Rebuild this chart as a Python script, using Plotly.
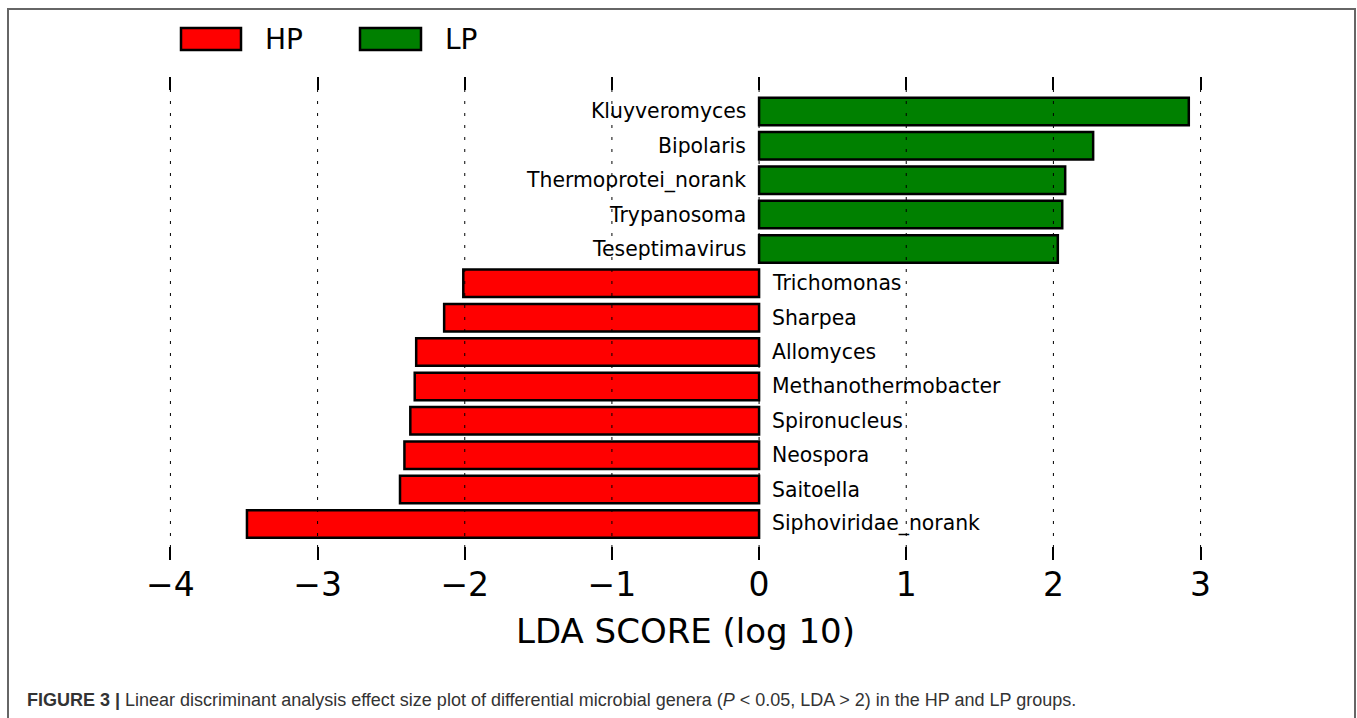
import plotly.graph_objects as go

# ---------------- data ----------------
lp_genera = ["Kluyveromyces", "Bipolaris", "Thermoprotei_norank", "Trypanosoma", "Teseptimavirus"]
lp_scores = [2.92, 2.27, 2.08, 2.06, 2.03]

hp_genera = ["Trichomonas", "Sharpea", "Allomyces", "Methanothermobacter",
             "Spironucleus", "Neospora", "Saitoella", "Siphoviridae_norank"]
hp_scores = [-2.01, -2.14, -2.33, -2.34, -2.37, -2.41, -2.44, -3.48]

tick_vals = [-4, -3, -2, -1, 0, 1, 2, 3]
group_names = ["HP", "LP"]
group_colors = {"HP": "#ff0000", "LP": "#008000"}

x_title = "LDA SCORE (log 10)"
caption_bold = "FIGURE 3 |"
caption_text = (" Linear discriminant analysis effect size plot of differential microbial genera "
                "(<i>P</i> &lt; 0.05, LDA &gt; 2) in the HP and LP groups.")

# order top -> bottom
order_top_down = lp_genera + hp_genera
category_array = list(reversed(order_top_down))

# ---------------- geometry ----------------
W, H = 1357, 718
ML, MR, MT, MB = 141, 127, 77, 158
PW, PH = W - ML - MR, H - MT - MB


def px(x):
    return (x - ML) / PW


def py(y):
    return (H - MB - y) / PH


FONT = "DejaVu Sans"

fig = go.Figure()
fig.add_trace(go.Bar(
    x=lp_scores, y=lp_genera, orientation="h", name="LP", width=0.8,
    marker=dict(color=group_colors["LP"], line=dict(color="black", width=2.5)),
    showlegend=False, hoverinfo="x+y"))
fig.add_trace(go.Bar(
    x=hp_scores, y=hp_genera, orientation="h", name="HP", width=0.8,
    marker=dict(color=group_colors["HP"], line=dict(color="black", width=2.5)),
    showlegend=False, hoverinfo="x+y"))

annotations = []
for g in lp_genera:
    annotations.append(dict(x=0, y=g, xref="x", yref="y", text=g, showarrow=False,
                            xanchor="right", yanchor="middle", xshift=-11,
                            font=dict(family=FONT, size=20.4, color="black")))
for g in hp_genera:
    annotations.append(dict(x=0, y=g, xref="x", yref="y", text=g, showarrow=False,
                            xanchor="left", yanchor="middle", xshift=11,
                            font=dict(family=FONT, size=20.4, color="black")))

shapes = []
# dotted grid lines above bars
for t in tick_vals:
    shapes.append(dict(type="line", xref="x", yref="paper", x0=t, x1=t, y0=0, y1=1,
                       line=dict(color="black", width=1, dash="3px,9px"), layer="above"))

# manual legend (boxes + labels)
legend_boxes = {"HP": (181, 241), "LP": (360, 421)}
legend_text_x = {"HP": 263, "LP": 443}
for g in group_names:
    x0, x1 = legend_boxes[g]
    shapes.append(dict(type="rect", xref="paper", yref="paper",
                       x0=px(x0), x1=px(x1), y0=py(50), y1=py(28),
                       fillcolor=group_colors[g], line=dict(color="black", width=2.5)))
    annotations.append(dict(x=px(legend_text_x[g]), y=py(39), xref="paper", yref="paper",
                            text=g, showarrow=False, xanchor="left", yanchor="middle",
                            font=dict(family=FONT, size=28, color="black")))

# figure frame
shapes.append(dict(type="rect", xref="paper", yref="paper",
                   x0=px(8), x1=px(1355), y0=py(730), y1=py(9),
                   line=dict(color="#666666", width=2), fillcolor="rgba(0,0,0,0)"))

# caption
annotations.append(dict(x=px(25), y=py(700), xref="paper", yref="paper",
                        text=f"<b>{caption_bold}</b>{caption_text}", showarrow=False,
                        xanchor="left", yanchor="middle",
                        font=dict(family="Liberation Sans Narrow, Liberation Sans, Arial",
                                  size=18, color="#333333")))

fig.update_layout(
    width=W, height=H,
    margin=dict(l=ML, r=MR, t=MT, b=MB, pad=0),
    paper_bgcolor="white", plot_bgcolor="white",
    font=dict(family=FONT, color="black"),
    bargap=0.2,
    shapes=shapes, annotations=annotations,
    showlegend=False,
)
fig.update_xaxes(
    range=[-4.2, 3.2], tickvals=tick_vals, showgrid=False, zeroline=False,
    showline=False, ticks="inside", ticklen=13, tickwidth=1.5, tickcolor="black",
    mirror="allticks", tickfont=dict(family=FONT, size=33, color="black"),
    ticklabelstandoff=2,
    title=dict(text=x_title, font=dict(family=FONT, size=34, color="black"), standoff=16),
)
fig.update_yaxes(
    type="category", categoryorder="array", categoryarray=category_array,
    range=[-1.05, 13.0], showticklabels=False, showgrid=False, zeroline=False,
    showline=False, ticks="",
)

fig.write_html("out.html", config={"displayModeBar": False},
               post_script="document.body.style.margin='0';document.body.style.overflow='hidden';")
